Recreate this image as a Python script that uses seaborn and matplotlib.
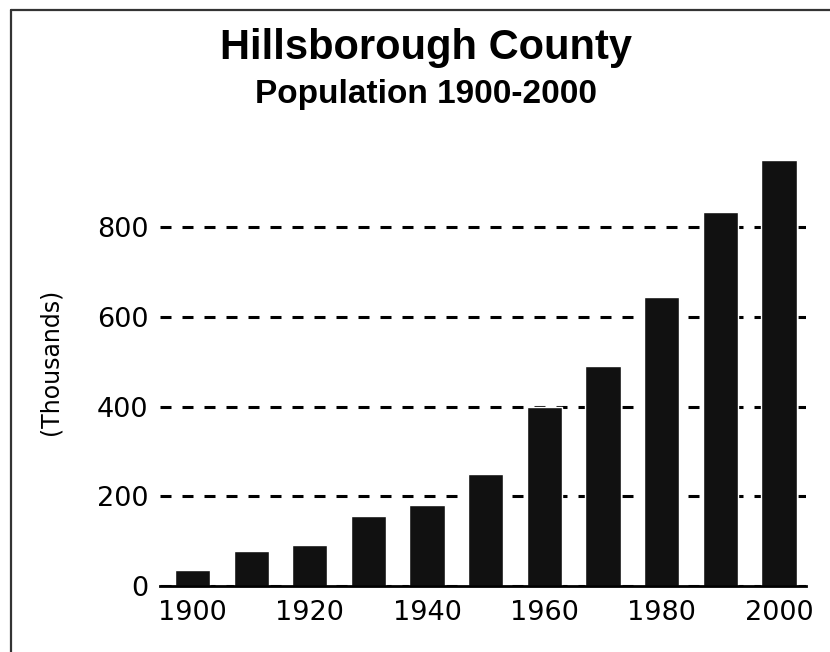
#!/usr/bin/env python3
# Bar chart: Hillsborough County population 1900-2000

import pandas as pd
import matplotlib.pyplot as plt
from matplotlib.lines import Line2D
import seaborn as sns

# ============================================================================
# DATA (thousands)
# ============================================================================
years = ["1900", "1910", "1920", "1930", "1940", "1950",
         "1960", "1970", "1980", "1990", "2000"]
population = [35, 79, 91, 156, 181, 250, 399, 490, 645, 833, 949]
tick_years = ["1900", "1920", "1940", "1960", "1980", "2000"]
y_ticks = [0, 200, 400, 600, 800]

df = pd.DataFrame({"year": years, "population": population})

# ============================================================================
# THEME SETTINGS
# ============================================================================
sns.set_theme(style="white")
plt.rcParams['font.family'] = ['DejaVu Sans']
plt.rcParams['text.color'] = 'black'

fig = plt.figure(figsize=(8.3, 6.52), dpi=100)
ax = fig.add_axes([0.193, 0.101, 0.778, 0.661])

# ============================================================================
# CREATE PLOT
# ============================================================================
sns.barplot(data=df, x="year", y="population", color="#111111",
            saturation=1, width=0.6, ax=ax, zorder=3)

ax.set_xlim(-0.55, 10.46)
ax.set_ylim(0, 960)
ax.set_yticks(y_ticks)
ax.set_yticklabels([str(v) for v in y_ticks])
ax.set_xticks([years.index(t) for t in tick_years])
ax.set_xticklabels(tick_years)
ax.tick_params(axis='both', length=0, labelsize=19.5, colors='black')
ax.tick_params(axis='x', pad=10)
ax.tick_params(axis='y', pad=8.5)

ax.set_xlabel("")
ax.set_ylabel("(Thousands)", fontsize=17, color='black')
ax.yaxis.set_label_coords(-0.152, 0.52)

ax.yaxis.grid(True, color='black', linewidth=2.2, linestyle=(0, (3.6, 3.6)))
ax.xaxis.grid(False)
ax.set_axisbelow(True)

for side in ['top', 'right', 'left']:
    ax.spines[side].set_visible(False)
ax.spines['bottom'].set_color('black')
ax.spines['bottom'].set_linewidth(2.0)
ax.spines['bottom'].set_zorder(4)

# Titles
fig.text(0.513, 0.9095, "Hillsborough County", ha='center', va='baseline',
         fontsize=30, fontweight='bold', color='black',
         family=['Liberation Sans', 'DejaVu Sans'])
fig.text(0.513, 0.842, "Population 1900-2000", ha='center', va='baseline',
         fontsize=24, fontweight='bold', color='black',
         family=['Liberation Sans', 'DejaVu Sans'])

# Frame around the picture (top and left edges)
fig.add_artist(Line2D([0.0133, 1.0], [0.985, 0.985], transform=fig.transFigure,
                      color='#333333', linewidth=1.6))
fig.add_artist(Line2D([0.0133, 0.0133], [0.0, 0.985], transform=fig.transFigure,
                      color='#333333', linewidth=1.6))

# ============================================================================
# SAVE OUTPUT
# ============================================================================
plt.savefig("out.png", dpi=100)
print("Plot saved to: out.png")
plt.close()
